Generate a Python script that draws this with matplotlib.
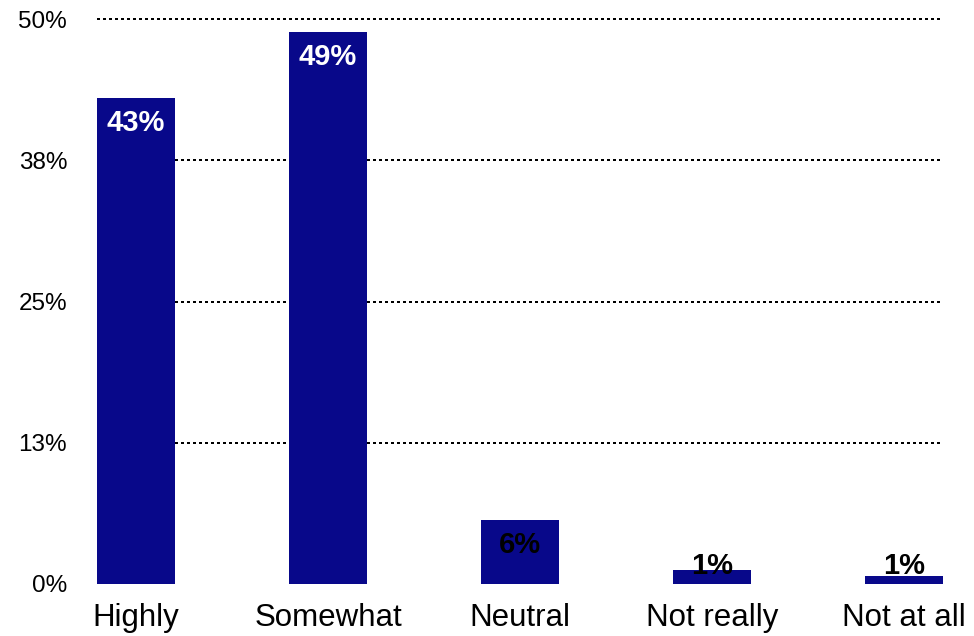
import matplotlib
matplotlib.use("Agg")
import matplotlib.pyplot as plt

categories = ["Highly", "Somewhat", "Neutral", "Not really", "Not at all"]
values = [43.0, 48.85, 5.66, 1.24, 0.71]
value_labels = ["43%", "49%", "6%", "1%", "1%"]
label_colors = ["white", "white", "black", "black", "black"]
y_ticks = [0, 12.5, 25, 37.5, 50]
y_tick_labels = ["0%", "13%", "25%", "38%", "50%"]

plt.rcParams['font.family'] = ['Liberation Sans', 'DejaVu Sans']

fig = plt.figure(figsize=(9.74, 6.36), dpi=100)
ax = fig.add_axes([97/974, 1 - 584/636, (943-97)/974, (584-19)/636])

bar_w = 78/192
x = list(range(len(categories)))
ax.bar(x, values, width=bar_w, color='#08088A', zorder=3)

for t in y_ticks[1:]:
    ax.axhline(t, color='black', linewidth=1.6, linestyle=(0, (1, 1.6)),
               antialiased=False, clip_on=False, zorder=1)

for xi, v, lab, c in zip(x, values, value_labels, label_colors):
    ax.text(xi, max(v - 2.9, 0.9), lab, ha='center', va='baseline',
            fontsize=21, fontweight='bold', color=c, zorder=4)

ax.set_xlim(-bar_w/2, len(categories) - 1 + bar_w/2)
ax.set_ylim(0, 50)
ax.set_yticks(y_ticks)
ax.set_yticklabels(y_tick_labels, fontsize=17.5)
ax.set_xticks(x)
ax.set_xticklabels(categories, fontsize=22.5)
ax.tick_params(axis='y', length=0, pad=21.5)
ax.tick_params(axis='x', length=0, pad=14)
for s in ax.spines.values():
    s.set_visible(False)

fig.savefig("out.png", dpi=100)
